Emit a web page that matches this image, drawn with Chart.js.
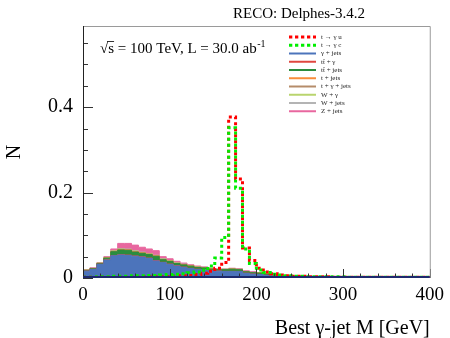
<!DOCTYPE html>
<html><head><meta charset="utf-8">
<script src="https://cdn.jsdelivr.net/npm/chart.js@4.4.1/dist/chart.umd.min.js"></script>
<style>html,body{margin:0;padding:0;background:#fff}</style>
</head><body>
<canvas id="c" width="450" height="338"></canvas>
<script>
// ---- data (bins of 8 GeV, left edges) ----
const binLow = [0,8,16,24,32,40,48,56,64,72,80,88,96,104,112,120,128,136,144,152,160,168,176,184,192,200,208,216,224,232,240,248,256,264,272,280,288,296,304,312,320,328,336,344,352,360,368,376,384,392];
const binWidth = 8;
const seriesNames = ['t \u2192 \u03b3 u','t \u2192 \u03b3 c','\u03b3 + jets','tt\u0304 + \u03b3','tt\u0304 + jets','t + jets','t + \u03b3 + jets','W + \u03b3','W + jets','Z + jets'];
const xTickLabels = [0,100,200,300,400];
const yTickLabels = [0,0.2,0.4];

const tgu = [0.002,0.002,0.002,0.002,0.002,0.002,0.002,0.002,0.002,0.003,0.003,0.003,0.003,0.004,0.005,0.006,0.008,0.011,0.016,0.023,0.036,0.377,0.232,0.070,0.041,0.023,0.014,0.010,0.007,0.005,0.004,0.004,0.003,0.003,0.003,0.003,0.002,0.002,0.002,0.002,0.002,0.002,0.002,0.002,0.002,0.002,0.002,0.002,0.002,0.002];
const tgc = [0.002,0.002,0.003,0.003,0.004,0.004,0.004,0.005,0.005,0.006,0.006,0.007,0.008,0.009,0.010,0.012,0.014,0.018,0.028,0.047,0.095,0.352,0.210,0.068,0.034,0.019,0.013,0.009,0.007,0.005,0.004,0.004,0.003,0.003,0.003,0.003,0.003,0.003,0.002,0.002,0.002,0.002,0.002,0.002,0.002,0.002,0.002,0.002,0.002,0.002];

const gjets = [0.016,0.020,0.032,0.042,0.052,0.054,0.053,0.051,0.049,0.046,0.040,0.036,0.032,0.028,0.025,0.022,0.020,0.019,0.017,0.016,0.015,0.015,0.015,0.011,0.009,0.008,0.006,0.005,0.004,0.004,0.003,0.003,0.0025,0.002,0.002,0.0015,0.0012,0.001,0.001,0.0008,0.0006,0.0005,0.0005,0.0004,0.0004,0.0003,0.0003,0.0003,0.0002,0.0002];
const ttgamma = [0.0003,0.0003,0.0004,0.0005,0.0006,0.0007,0.0008,0.0008,0.0008,0.0008,0.0008,0.0008,0.0008,0.0007,0.0007,0.0007,0.0007,0.0007,0.0007,0.0006,0.0006,0.0006,0.0005,0.0005,0.0004,0.0004,0.0003,0.0003,0.0003,0.0002,0.0002,0.0002,0.0002,0.0001,0.0001,0.0001,0.0001,0.0001,0.0001,0.0001,0.0001,0,0,0,0,0,0,0,0,0];
const ttjets = [0.0015,0.0015,0.0015,0.004,0.009,0.011,0.011,0.009,0.008,0.008,0.010,0.006,0.006,0.005,0.005,0.005,0.004,0.004,0.003,0.003,0.004,0.005,0.004,0.003,0.003,0.003,0.0025,0.002,0.0015,0.0012,0.001,0.0008,0.0006,0.0005,0.0004,0.0003,0.0003,0.0002,0.0002,0.0002,0.0001,0.0001,0.0001,0.0001,0.0001,0,0,0,0,0];
const tjets = [0.0002,0.0002,0.0003,0.0004,0.0006,0.0007,0.0007,0.0007,0.0007,0.0006,0.0006,0.0005,0.0005,0.0005,0.0004,0.0004,0.0004,0.0003,0.0003,0.0003,0.0003,0.0003,0.0003,0.0002,0.0002,0.0002,0.0002,0.0001,0.0001,0.0001,0.0001,0.0001,0.0001,0,0,0,0,0,0,0,0,0,0,0,0,0,0,0,0,0];
const tgjets = [0.0003,0.0003,0.0004,0.0006,0.0008,0.001,0.001,0.001,0.0009,0.0009,0.0008,0.0007,0.0006,0.0006,0.0005,0.0005,0.0004,0.0004,0.0004,0.0003,0.0003,0.0003,0.0003,0.0003,0.0002,0.0002,0.0002,0.0002,0.0001,0.0001,0.0001,0.0001,0.0001,0.0001,0.0001,0,0,0,0,0,0,0,0,0,0,0,0,0,0,0];
const wgamma = [0.0001,0.0001,0.0002,0.0002,0.0003,0.0003,0.0003,0.0003,0.0003,0.0003,0.0003,0.0002,0.0002,0.0002,0.0002,0.0002,0.0002,0.0002,0.0001,0.0001,0.0001,0.0001,0.0001,0.0001,0.0001,0.0001,0.0001,0.0001,0.0001,0.0001,0,0,0,0,0,0,0,0,0,0,0,0,0,0,0,0,0,0,0,0];
const wjets = [0.0003,0.0003,0.0005,0.0007,0.0009,0.001,0.001,0.001,0.001,0.0009,0.0009,0.0008,0.0007,0.0007,0.0006,0.0005,0.0005,0.0005,0.0004,0.0004,0.0004,0.0004,0.0004,0.0003,0.0003,0.0003,0.0002,0.0002,0.0002,0.0001,0.0001,0.0001,0.0001,0.0001,0.0001,0,0,0,0,0,0,0,0,0,0,0,0,0,0,0];
const zjets = [0.0003,0.0013,0.0007,0.0016,0.0038,0.0123,0.0132,0.0132,0.0113,0.0105,0.0106,0.005,0.0042,0.0034,0.0026,0.0017,0.0018,0.0009,0.001,0.0003,0.0003,0.0012,0.0013,0.0015,0.0017,0.0003,0.0004,0.0007,0.0007,0.0003,0.0003,0.0003,0.0002,0.0002,0.0002,0.0002,0.0001,0.0001,0.0001,0.0001,0.0001,0.0001,0,0,0,0,0,0,0,0];

// ---- styles ----
const stackComps = [gjets, ttgamma, ttjets, tjets, tgjets, wgamma, wjets, zjets];
const stackColors = ['#4c74bb','#e0473f','#2b8c3e','#f98c3a','#b58c6a','#b9d46e','#b4b4b4','#e8679f'];
const sigColors = ['#ff0000','#00ee00'];

function histPoints(vals){
  const pts = vals.map((v,i)=>({x:binLow[i], y:v}));
  pts.push({x:binLow[binLow.length-1]+binWidth, y:vals[vals.length-1]});
  return pts;
}

const datasets = [];
datasets.push({data:histPoints(tgc), borderColor:sigColors[1], borderWidth:3, borderDash:[3,3], borderCapStyle:'butt', stepped:true, pointRadius:0, fill:false, order:0});
datasets.push({data:histPoints(tgu), borderColor:sigColors[0], borderWidth:3, borderDash:[3,3], borderCapStyle:'butt', stepped:true, pointRadius:0, fill:false, order:1});
let cum = binLow.map(()=>0);
stackComps.forEach((comp, k)=>{
  cum = cum.map((c,i)=>c+comp[i]);
  datasets.push({data:histPoints(cum.slice()), borderColor:stackColors[k], backgroundColor:stackColors[k], borderWidth:1,
    stepped:true, pointRadius:0, fill: k===0 ? 'origin' : '-1', order:2+k});
});

const SERIF = "'Liberation Serif','DejaVu Serif',serif";
const near = (a,b)=>Math.abs(a-b)<1e-9;

const decor = {
  id:'decor',
  afterDatasetsDraw(chart){
    const ctx = chart.ctx, xs = chart.scales.x, ys = chart.scales.y, a = chart.chartArea;
    ctx.save();
    ctx.strokeStyle = '#333'; ctx.lineWidth = 1;
    for (let v=0; v<=0.5501; v+=0.05){
      const y = Math.round(ys.getPixelForValue(v))+0.5;
      const major = yTickLabels.some(t=>near(t, Math.round(v*100)/100));
      ctx.beginPath(); ctx.moveTo(a.left, y); ctx.lineTo(a.left+(major?10:5), y); ctx.stroke();
    }
    for (let v=0; v<=400; v+=20){
      const x = Math.round(xs.getPixelForValue(v))+0.5;
      const major = xTickLabels.includes(v);
      ctx.beginPath(); ctx.moveTo(x, a.bottom); ctx.lineTo(x, a.bottom-(major?9:4.5)); ctx.stroke();
    }
    ctx.strokeStyle = '#9a9a9a'; ctx.lineWidth = 1;
    ctx.beginPath(); ctx.moveTo(a.left, a.top+0.5); ctx.lineTo(a.right+0.5, a.top+0.5); ctx.lineTo(a.right+0.5, a.bottom); ctx.stroke();
    ctx.strokeStyle = '#222';
    ctx.beginPath(); ctx.moveTo(a.left+0.5, a.top); ctx.lineTo(a.left+0.5, a.bottom); ctx.stroke();
    ctx.strokeStyle = '#1e2a6e'; ctx.lineWidth = 2;
    ctx.beginPath(); ctx.moveTo(a.left, a.bottom-1); ctx.lineTo(a.right, a.bottom-1); ctx.stroke();

    ctx.fillStyle = '#000';
    ctx.font = '15px '+SERIF; ctx.textBaseline = 'alphabetic'; ctx.textAlign = 'left';
    ctx.fillText('RECO: Delphes-3.4.2', 233, 18);
    let x0 = 100, yb = 53;
    ctx.fillText('\u221a', x0, yb);
    const wr = ctx.measureText('\u221a').width;
    const ws = ctx.measureText('s').width;
    ctx.fillText('s', x0+wr, yb);
    ctx.lineWidth = 0.8; ctx.strokeStyle = '#000';
    ctx.beginPath(); ctx.moveTo(x0+wr-1, yb-11.5); ctx.lineTo(x0+wr+ws, yb-11.5); ctx.stroke();
    const rest = ' = 100 TeV, L = 30.0 ab';
    ctx.fillText(rest, x0+wr+ws, yb);
    const wrest = ctx.measureText(rest).width;
    ctx.font = '10px '+SERIF;
    ctx.fillText('-1', x0+wr+ws+wrest+0.5, yb-6);

    ctx.font = '20px '+SERIF; ctx.textAlign = 'right';
    ctx.fillText('Best \u03b3-jet M [GeV]', a.right, 334);
    ctx.save(); ctx.translate(20, 152); ctx.rotate(-Math.PI/2);
    ctx.textAlign = 'center'; ctx.fillText('N', 0, 0); ctx.restore();

    const legColors = [sigColors[0], sigColors[1]].concat(stackColors);
    ctx.font = '7px '+SERIF; ctx.textAlign = 'left'; ctx.textBaseline = 'middle';
    seriesNames.forEach((name,k)=>{
      const y = 37 + k*8.25;
      ctx.strokeStyle = legColors[k];
      if (k<2){ ctx.lineWidth = 3; ctx.setLineDash([3.3,2.7]); }
      else { ctx.lineWidth = 2; ctx.setLineDash([]); }
      ctx.beginPath(); ctx.moveTo(289, y); ctx.lineTo(316, y); ctx.stroke();
      ctx.setLineDash([]);
      ctx.fillStyle = '#222';
      ctx.fillText(name, 321, y);
    });
    ctx.restore();
  }
};

new Chart(document.getElementById('c'), {
  type:'line',
  data:{datasets},
  options:{
    responsive:false, animation:false, devicePixelRatio:1,
    layout:{padding:{top:26, right:17, left:0, bottom:0}},
    plugins:{legend:{display:false}, tooltip:{enabled:false}},
    scales:{
      x:{type:'linear', min:0, max:400,
         grid:{display:false, drawTicks:false}, border:{display:false},
         afterFit:(s)=>{s.height = 60;},
         ticks:{stepSize:100, autoSkip:false, maxRotation:0, padding:6, color:'#000',
                font:{family:SERIF, size:19},
                callback:(v)=> xTickLabels.includes(v) ? String(v) : ''}},
      y:{type:'linear', min:0, max:0.59,
         grid:{display:false, drawTicks:false}, border:{display:false},
         afterFit:(s)=>{s.width = 83;},
         ticks:{stepSize:0.1, autoSkip:false, padding:10, color:'#000',
                font:{family:SERIF, size:20},
                callback:(v)=> { const t = yTickLabels.find(t=>near(t, Math.round(v*1000)/1000)); return t===undefined ? '' : String(t); }}}
    }
  },
  plugins:[decor]
});
</script>
</body></html>
